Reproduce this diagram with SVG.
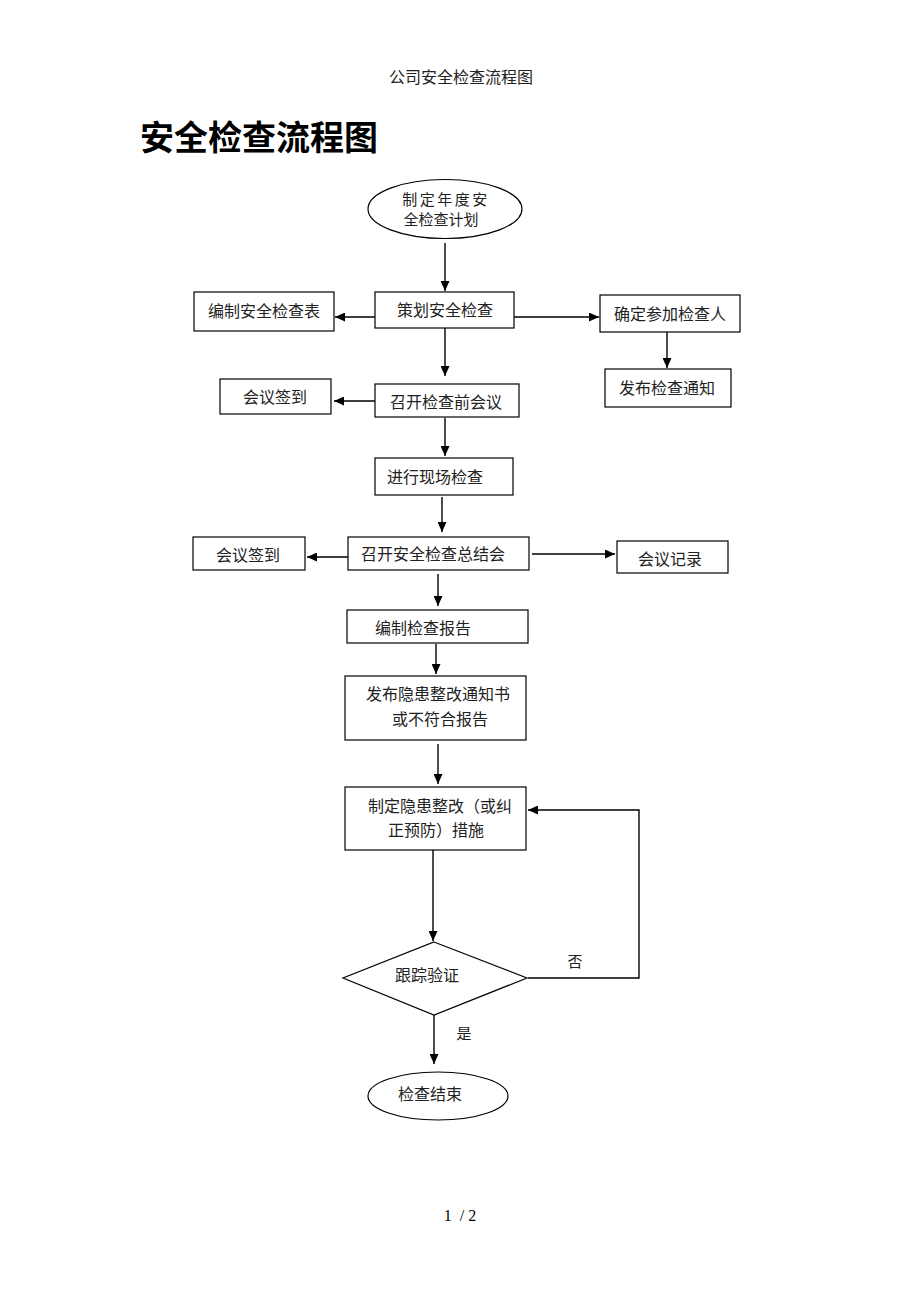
<svg xmlns="http://www.w3.org/2000/svg" width="920" height="1302" viewBox="0 0 920 1302">
<defs>
<marker id="arr" markerUnits="userSpaceOnUse" markerWidth="11" markerHeight="9" refX="10" refY="4.5" orient="auto">
<path d="M0,0 L10,4.5 L0,9 z" fill="#000"/>
</marker>
<style>
.box{fill:#fff;stroke:#000;stroke-width:1.2}
.t{font-family:"Noto Sans CJK SC","Liberation Sans",sans-serif;font-size:16px;fill:#222;text-anchor:middle}
.c{fill:none;stroke:#000;stroke-width:1.4}
</style>
</defs>
<rect width="920" height="1302" fill="#fff"/>
<text class="t" x="461" y="83" style="font-size:16px">公司安全检查流程图</text>
<text x="140" y="150" style="font-family:'Noto Sans CJK SC','Liberation Sans',sans-serif;font-size:34px;font-weight:bold;fill:#000">安全检查流程图</text>

<g id="connectors">
<line class="c" x1="445" y1="243" x2="445" y2="291" marker-end="url(#arr)"/>
<line class="c" x1="375" y1="317" x2="335" y2="317" marker-end="url(#arr)"/>
<line class="c" x1="514" y1="317" x2="599" y2="317" marker-end="url(#arr)"/>
<line class="c" x1="667" y1="332" x2="667" y2="368" marker-end="url(#arr)"/>
<line class="c" x1="445" y1="328" x2="445" y2="376" marker-end="url(#arr)"/>
<line class="c" x1="375" y1="401" x2="334" y2="401" marker-end="url(#arr)"/>
<line class="c" x1="445" y1="418" x2="445" y2="456" marker-end="url(#arr)"/>
<line class="c" x1="442" y1="497" x2="442" y2="532" marker-end="url(#arr)"/>
<line class="c" x1="348" y1="557" x2="307" y2="557" marker-end="url(#arr)"/>
<line class="c" x1="532" y1="554" x2="615" y2="554" marker-end="url(#arr)"/>
<line class="c" x1="438" y1="574" x2="438" y2="606" marker-end="url(#arr)"/>
<line class="c" x1="436" y1="644" x2="436" y2="674" marker-end="url(#arr)"/>
<line class="c" x1="438" y1="744" x2="438" y2="784" marker-end="url(#arr)"/>
<line class="c" x1="433" y1="850" x2="433" y2="941" marker-end="url(#arr)"/>
<polyline class="c" points="528,978 639,978 639,810 528,810" marker-end="url(#arr)"/>
<line class="c" x1="434" y1="1015" x2="434" y2="1064" marker-end="url(#arr)"/>
<text class="t" x="575" y="967" style="font-size:15px">否</text>
<text class="t" x="464" y="1039" style="font-size:15px">是</text>
</g>

<g id="n_plan">
<ellipse class="box" cx="445" cy="209" rx="77" ry="29.5"/>
<text class="t" x="446" y="205" style="font-size:15px;letter-spacing:2.5px">制定年度安</text>
<text class="t" x="441" y="225" style="font-size:15px">全检查计划</text>
</g>
<g id="n_cehua">
<rect class="box" x="375" y="292" width="139" height="36"/>
<text class="t" x="445" y="316">策划安全检查</text>
</g>
<g id="n_bianzhibiao">
<rect class="box" x="194" y="292" width="140" height="39"/>
<text class="t" x="264" y="317">编制安全检查表</text>
</g>
<g id="n_queding">
<rect class="box" x="600" y="295" width="140" height="37"/>
<text class="t" x="670" y="320">确定参加检查人</text>
</g>
<g id="n_tongzhi">
<rect class="box" x="605" y="369" width="126" height="38"/>
<text class="t" x="667" y="394">发布检查通知</text>
</g>
<g id="n_qianqian1">
<rect class="box" x="220" y="379" width="111" height="35"/>
<text class="t" x="275" y="403">会议签到</text>
</g>
<g id="n_qianhui">
<rect class="box" x="375" y="384" width="144" height="33"/>
<text class="t" x="446" y="408">召开检查前会议</text>
</g>
<g id="n_xianchang">
<rect class="box" x="375" y="458" width="138" height="37"/>
<text class="t" x="435" y="483">进行现场检查</text>
</g>
<g id="n_qianqian2">
<rect class="box" x="193" y="537" width="112" height="33"/>
<text class="t" x="248" y="561">会议签到</text>
</g>
<g id="n_zongjie">
<rect class="box" x="348" y="537" width="181" height="33"/>
<text class="t" x="433" y="560">召开安全检查总结会</text>
</g>
<g id="n_jilu">
<rect class="box" x="617" y="541" width="111" height="32"/>
<text class="t" x="670" y="565">会议记录</text>
</g>
<g id="n_baogao">
<rect class="box" x="347" y="610" width="181" height="33"/>
<text class="t" x="423" y="634">编制检查报告</text>
</g>
<g id="n_yinhuan">
<rect class="box" x="345" y="676" width="181" height="64"/>
<text class="t" x="438" y="700">发布隐患整改通知书</text>
<text class="t" x="440" y="725">或不符合报告</text>
</g>
<g id="n_cuoshi">
<rect class="box" x="345" y="787" width="181" height="63"/>
<text class="t" x="440" y="812">制定隐患整改（或纠</text>
<text class="t" x="436" y="836">正预防）措施</text>
</g>
<g id="n_yanzheng">
<polygon class="box" points="434,942 527,978 434,1015 343,978"/>
<text class="t" x="427" y="981">跟踪验证</text>
</g>
<g id="n_end">
<ellipse class="box" cx="438" cy="1096" rx="70" ry="24"/>
<text class="t" x="430" y="1100">检查结束</text>
</g>
<text x="460" y="1221" style="font-family:'Liberation Serif',serif;font-size:16px;fill:#000;text-anchor:middle">1&#160; / 2</text>
</svg>
